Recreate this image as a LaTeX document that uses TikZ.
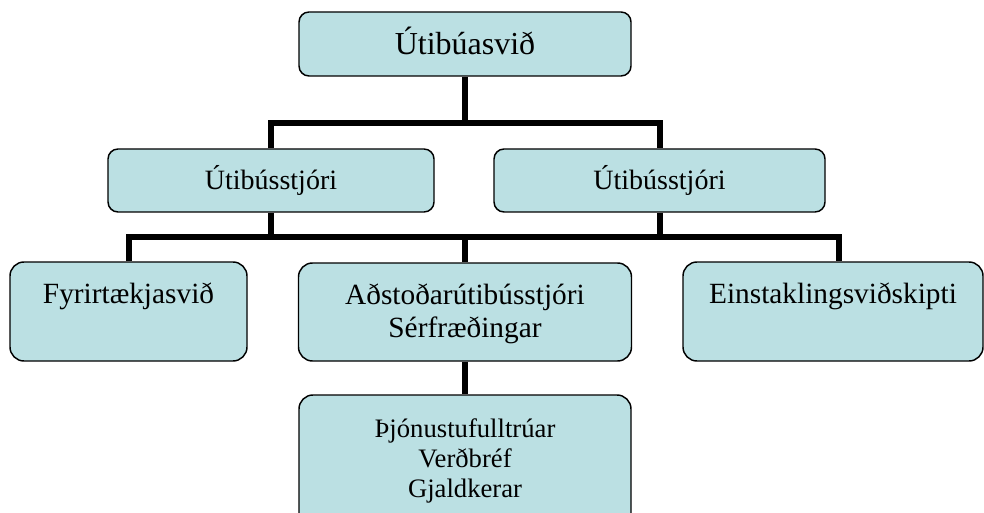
\documentclass[tikz,border=0pt]{standalone}
\usepackage{fontspec}
\setmainfont{Liberation Serif}
\newlength\pxu
\setlength\pxu{0.75pt}
% box content: width, height, first-baseline offset from top, text
\newcommand\cellbox[4]{\parbox[c][#2\pxu][t]{#1\pxu}{\centering\rule{0pt}{#3\pxu}#4}}
\definecolor{boxfill}{RGB}{187,224,227}
\begin{document}
\begin{tikzpicture}[x=0.75pt,y=-0.75pt,
  orgbox/.style={draw=black,line width=1.1pt,fill=boxfill,rounded corners=7.5pt,inner sep=0pt},
  tallbox/.style={orgbox,rounded corners=10.5pt},
  conn/.style={draw=black,line width=4.5pt}]
\useasboundingbox (0,0) rectangle (984,513);
\clip (0,0) rectangle (984,513);

% top level
\node[orgbox] (top) at (465,44)
  {\cellbox{332}{64}{43}{\fontsize{24}{27}\selectfont Útibúasvið}};

% branch managers
\node[orgbox] (ul) at (271,180.5)
  {\cellbox{326}{63}{40}{\fontsize{21}{24}\selectfont Útibússtjóri}};
\node[orgbox] (ur) at (659.5,180.5)
  {\cellbox{331}{63}{40}{\fontsize{21}{24}\selectfont Útibússtjóri}};

% departments
\node[tallbox] (f) at (128.5,311.5)
  {\cellbox{237}{99}{41}{\fontsize{22}{24.75}\selectfont Fyrirtækjasvið}};
\node[tallbox] (m) at (465,312)
  {\cellbox{333}{98}{41}{\fontsize{22}{24.75}\selectfont Aðstoðarútibússtjóri\\Sérfræðingar}};
\node[tallbox] (e) at (833,311.5)
  {\cellbox{300}{99}{41}{\fontsize{22}{24.75}\selectfont Einstaklingsviðskipti}};

% staff
\node[tallbox] (b) at (465,470)
  {\cellbox{332}{150}{42}{\fontsize{20}{22.5}\selectfont Þjónustufulltrúar\\Verðbréf\\Gjaldkerar}};

% connectors
\coordinate (bus1) at (465,123);
\coordinate (bus2) at (465,237);
\coordinate (etop) at ([xshift=4.5pt]e.north);

\draw[conn] (top.south) -- (bus1);
\draw[conn] (ul.north) -- (ul.north |- bus1) -- (ur.north |- bus1) -- (ur.north);

\draw[conn] (ul.south) -- (ul.south |- bus2);
\draw[conn] (ur.south) -- (ur.south |- bus2);
\draw[conn] (f.north) -- (f.north |- bus2) -- (etop |- bus2) -- (etop);
\draw[conn] (m.north) -- (m.north |- bus2);

\draw[conn] (m.south) -- (b.north);
\end{tikzpicture}
\end{document}
